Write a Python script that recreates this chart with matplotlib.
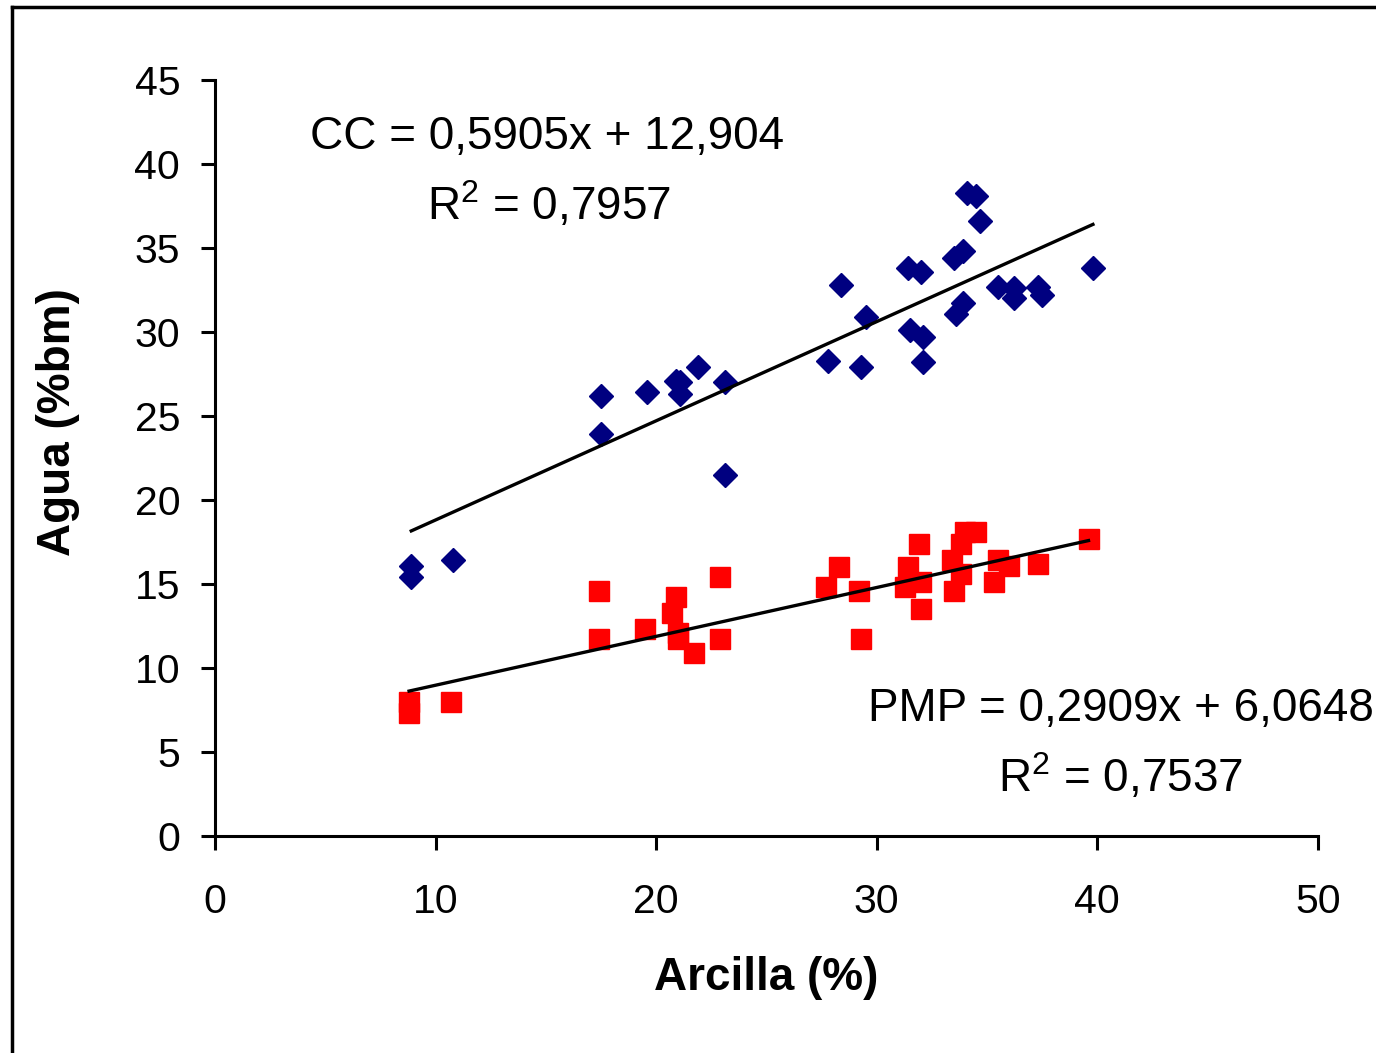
import matplotlib.pyplot as plt
from matplotlib.lines import Line2D
import numpy as np

plt.rcParams['font.family'] = ['Liberation Sans', 'DejaVu Sans']
plt.rcParams['mathtext.default'] = 'regular'

# capacidad de campo (CC)
arcilla_cc = [8.9, 8.9, 10.8, 17.5, 17.5, 19.6, 20.9, 21.1, 21.1, 21.9, 23.1, 23.1,
              27.8, 28.4, 29.3, 29.5, 31.4, 31.5, 32.0, 32.1, 32.1,
              33.5, 33.6, 33.9, 33.9, 34.1, 34.5, 34.7,
              35.5, 36.2, 36.2, 37.3, 37.5, 39.8]
agua_cc = [16.1, 15.4, 16.4, 26.2, 23.9, 26.4, 27.1, 27.0, 26.3, 27.9, 27.0, 21.5,
           28.3, 32.8, 27.9, 30.9, 33.8, 30.1, 33.6, 29.7, 28.2,
           34.4, 31.1, 34.8, 31.7, 38.3, 38.1, 36.6,
           32.7, 32.6, 32.0, 32.7, 32.2, 33.8]

# punto de marchitez permanente (PMP)
arcilla_pmp = [8.8, 8.8, 10.7, 17.4, 17.4, 19.5, 20.7, 20.9, 21.0, 21.0, 21.7, 22.9, 22.9,
               27.7, 28.3, 29.2, 29.3, 31.3, 31.4, 31.9, 32.0, 32.0,
               33.4, 33.5, 33.8, 33.8, 34.0, 34.5,
               35.3, 35.5, 36.0, 37.3, 39.6]
agua_pmp = [8.0, 7.3, 8.0, 14.6, 11.7, 12.3, 13.3, 14.2, 12.1, 11.7, 10.9, 15.4, 11.7,
            14.8, 16.0, 14.6, 11.7, 14.8, 16.0, 17.4, 15.1, 13.5,
            16.4, 14.6, 17.4, 15.6, 18.1, 18.1,
            15.1, 16.4, 16.1, 16.2, 17.7]

coef_cc = (0.5905, 12.904)
coef_pmp = (0.2909, 6.0648)

fig = plt.figure(figsize=(13.76, 10.53), dpi=100)
ax = fig.add_axes([0.1562, 0.2061, 0.8016, 0.7179])

ax.plot(arcilla_cc, agua_cc, 'D', color='#000080', ms=12, mec='#000080', zorder=3)
ax.plot(arcilla_pmp, agua_pmp, 's', color='#ff0000', ms=14, mec='#ff0000', zorder=3)

for xs, (m, b) in [(arcilla_cc, coef_cc), (arcilla_pmp, coef_pmp)]:
    xx = np.array([min(xs), max(xs)])
    ax.plot(xx, m * xx + b, color='black', lw=2.4, zorder=4)

ax.set_xlim(0, 50)
ax.set_ylim(0, 45)
ax.set_xticks(range(0, 51, 10))
ax.set_yticks(range(0, 46, 5))
ax.spines['top'].set_visible(False)
ax.spines['right'].set_visible(False)
for s in ['left', 'bottom']:
    ax.spines[s].set_linewidth(2.2)
ax.tick_params(axis='both', direction='out', length=10, width=2.2, labelsize=29.5)
ax.tick_params(axis='x', pad=24)
ax.tick_params(axis='y', pad=15)

ax.set_xlabel('Arcilla (%)', fontsize=33, fontweight='bold', va='center')
ax.set_ylabel('Agua (%bm)', fontsize=33, fontweight='bold', va='center')
ax.xaxis.set_label_coords(0.5, -0.188)
ax.yaxis.set_label_coords(-0.142, 0.548)

ax.text(0.301, 0.925, 'CC = 0,5905x + 12,904', transform=ax.transAxes,
        fontsize=33, ha='center', va='center')
ax.text(0.303, 0.835, 'R$^{2}$ = 0,7957', transform=ax.transAxes,
        fontsize=33, ha='center', va='center')
ax.text(0.821, 0.168, 'PMP = 0,2909x + 6,0648', transform=ax.transAxes,
        fontsize=33, ha='center', va='center')
ax.text(0.821, 0.078, 'R$^{2}$ = 0,7537', transform=ax.transAxes,
        fontsize=33, ha='center', va='center')

# marco exterior
fig.add_artist(Line2D([0.0085, 0.0085], [0.0, 0.993], color='black', lw=2.5,
                      transform=fig.transFigure))
fig.add_artist(Line2D([0.0085, 1.0], [0.993, 0.993], color='black', lw=2.5,
                      transform=fig.transFigure))

fig.savefig('out.png', dpi=100)
